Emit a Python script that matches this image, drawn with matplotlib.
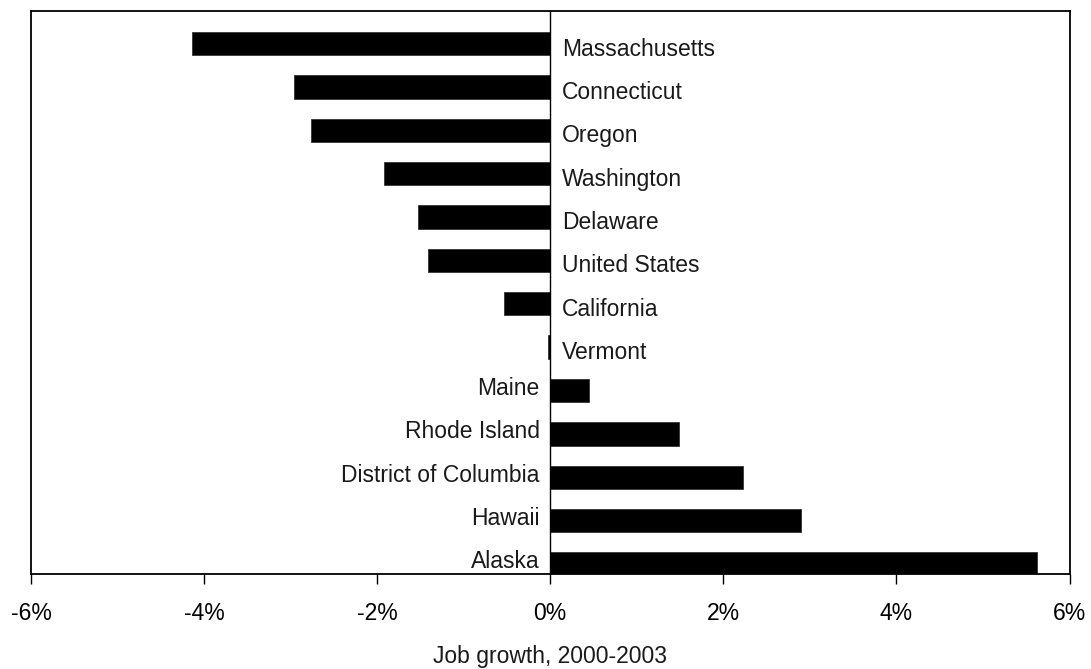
import matplotlib.pyplot as plt
from matplotlib.ticker import FuncFormatter

plt.rcParams['font.family'] = ['Liberation Sans', 'DejaVu Sans']

# Job growth 2000-2003, percent
states = ['Massachusetts', 'Connecticut', 'Oregon', 'Washington', 'Delaware',
          'United States', 'California', 'Vermont', 'Maine', 'Rhode Island',
          'District of Columbia', 'Hawaii', 'Alaska']
growth = [-4.14, -2.96, -2.77, -1.92, -1.53, -1.41, -0.53, -0.03,
          0.45, 1.49, 2.23, 2.90, 5.62]
xticks = [-6, -4, -2, 0, 2, 4, 6]

FS = 16.5


def make_chart():
    fig = plt.figure(figsize=(10.91, 6.69), dpi=100)
    ax = fig.add_axes([0.0284, 0.1413, 0.9519, 0.8423])

    pos = list(range(len(states)))
    ax.barh(pos, growth, height=0.54, color='black', edgecolor='#333333',
            linewidth=0.6, zorder=2)
    ax.axvline(0, color='black', linewidth=1.0, zorder=3)

    # category names sit on the opposite side of the zero line
    for y, name, val in zip(pos, states, growth):
        if val < 0:
            ax.annotate(name, (0, y), xytext=(8.5, -4), textcoords='offset points',
                        ha='left', va='center', fontsize=FS, color='#1a1a1a')
        else:
            ax.annotate(name, (0, y), xytext=(-7.5, 1.5), textcoords='offset points',
                        ha='right', va='center', fontsize=FS, color='#1a1a1a')

    ax.set_xlim(-6, 6)
    ax.set_ylim(12.24, -0.75)
    ax.set_xticks(xticks)
    ax.xaxis.set_major_formatter(FuncFormatter(lambda v, p: f'{v:.0f}%'))
    ax.set_yticks([])
    ax.tick_params(axis='x', direction='out', length=7, width=1, pad=13,
                   labelsize=FS, colors='black')
    for s in ax.spines.values():
        s.set_linewidth(1.3)
        s.set_color('black')

    ax.set_xlabel('Job growth, 2000-2003', fontsize=FS, labelpad=14, color='#1a1a1a')
    return fig


fig = make_chart()
fig.savefig('out.png', dpi=100)
